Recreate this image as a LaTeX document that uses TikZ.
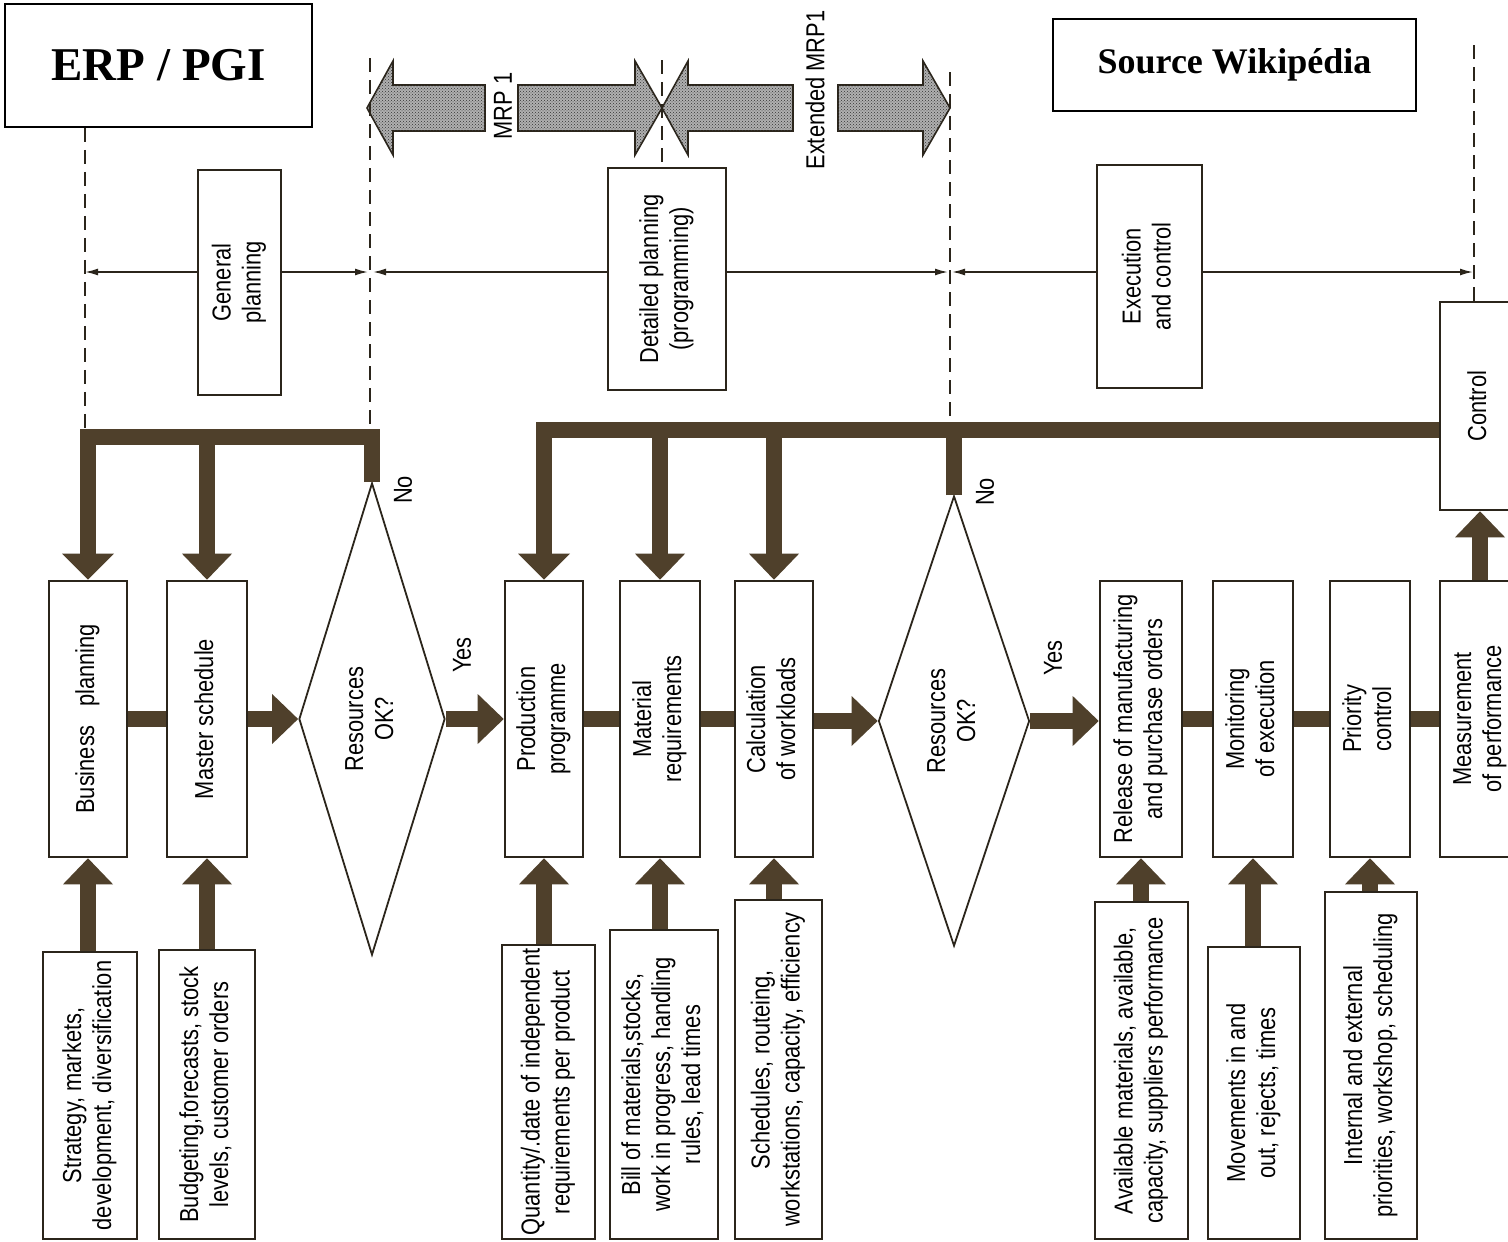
\documentclass[tikz,border=0pt]{standalone}
\usepackage{fontspec}
\usepackage{graphicx}
\usetikzlibrary{arrows.meta, shapes.geometric, patterns}
\newfontfamily\flowfont[FakeStretch=0.84]{Liberation Sans}
\newfontfamily\titlefont{Liberation Serif}
\definecolor{flowbrown}{HTML}{4F402B}
\definecolor{boxline}{HTML}{2B251B}
\newcommand{\vlab}[1]{\rotatebox{90}{\begin{tabular}{@{}c@{}}#1\end{tabular}}}

\begin{document}
\begin{tikzpicture}[
  x=1pt, y=-1pt,
  box/.style={
    rectangle, draw=boxline, fill=white,
    line width=2.6pt, inner sep=0pt, font=\flowfont\fontsize{26}{30}\selectfont},
  proc/.style={box, minimum height=276pt},
  decide/.style={diamond, draw=boxline, fill=white, line width=1.8pt,
    inner sep=0pt, font=\flowfont\fontsize{26}{30}\selectfont},
  title/.style={rectangle, draw=black, line width=1.6pt, inner sep=0pt,
    font=\titlefont\bfseries},
  lbl/.style={font=\flowfont\fontsize{26}{30}\selectfont, rotate=90, inner sep=0pt},
  guide/.style={boxline, line width=1.6pt, dash pattern=on 14pt off 8pt},
  span/.style={boxline, line width=1.6pt, -{Latex[length=13pt,width=7pt]}},
  bar/.style={flowbrown, line width=16pt},
  bus/.style={bar, line join=miter},
  ar/.style={bar, -{Triangle[width=50pt,length=26pt,line width=0pt]}},
  mrp/.style={draw=boxline, line width=1.6pt, fill=gray!62,
    postaction={pattern=crosshatch dots, pattern color=black!80}},
]
  \useasboundingbox (0,0) rectangle (1508,1242);
  \fill[white] (0,0) rectangle (1508,1242);

  % titles
  \node[title, minimum width=307pt, minimum height=123pt, font=\titlefont\bfseries\fontsize{47}{50}\selectfont] (erp) at (158.5,65.5) {ERP / PGI};
  \node[title, minimum width=363pt, minimum height=92pt, font=\titlefont\bfseries\fontsize{36}{40}\selectfont] (src) at (1234.5,65) {Source Wikipédia};

  % phases
  \node[box, minimum width=83pt, minimum height=225pt] (genplan) at (239.5,282.5) {\vlab{General\\planning}};
  \node[box, minimum width=118pt, minimum height=222pt] (detplan) at (667,279) {\vlab{Detailed planning\\(programming)}};
  \node[box, minimum width=105pt, minimum height=223pt] (execctl) at (1149.5,276.5) {\vlab{Execution\\and control}};
  \node[box, minimum width=80pt, minimum height=208pt] (control) at (1480,406) {\vlab{Control}};

  % main row
  \node[proc, minimum width=78pt] (busplan) at (88,719) {\vlab{Business\hskip0.7em planning}};
  \node[proc, minimum width=80pt] (master) at (207,719) {\vlab{Master schedule}};
  \node[decide, minimum width=146pt, minimum height=472pt, shape aspect=0.31] (d1) at (372,719) {\vlab{Resources\\OK?}};
  \node[proc, minimum width=78pt] (prodprog) at (544,719) {\vlab{Production\\programme}};
  \node[proc, minimum width=80pt] (matreq) at (660,719) {\vlab{Material\\requirements}};
  \node[proc, minimum width=78pt] (calcwl) at (774,719) {\vlab{Calculation\\of workloads}};
  \node[decide, minimum width=151pt, minimum height=450pt, shape aspect=0.34] (d2) at (954,721) {\vlab{Resources\\OK?}};
  \node[proc, minimum width=82pt] (release) at (1141,719) {\vlab{Release of manufacturing\\and purchase orders}};
  \node[proc, minimum width=80pt] (monitor) at (1253,719) {\vlab{Monitoring\\of execution}};
  \node[proc, minimum width=80pt] (priority) at (1370,719) {\vlab{Priority\\control}};
  \node[proc, minimum width=80pt] (measure) at (1480,719) {\vlab{Measurement\\of performance}};

  % inputs
  \node[box, minimum width=94pt, minimum height=287pt] (instrat) at (90,1095.5) {\vlab{Strategy, markets,\\development, diversification}};
  \node[box, minimum width=96pt, minimum height=289pt] (inbudget) at (207,1094.5) {\vlab{Budgeting,forecasts, stock\\levels, customer orders}};
  \node[box, minimum width=93pt, minimum height=294pt] (inqty) at (548.5,1092) {\vlab{Quantity/.date of independent\\requirements per product}};
  \node[box, minimum width=108pt, minimum height=309pt] (inbom) at (664,1084.5) {\vlab{Bill of materials,stocks,\\work in progress, handling\\rules, lead times}};
  \node[box, minimum width=87pt, minimum height=339pt] (insched) at (778.5,1069.5) {\vlab{Schedules, routeing,\\workstations, capacity, efficiency}};
  \node[box, minimum width=93pt, minimum height=337pt] (inavail) at (1141.5,1070.5) {\vlab{Available materials, available,\\capacity, suppliers performance}};
  \node[box, minimum width=92pt, minimum height=292pt] (inmove) at (1254,1093) {\vlab{Movements in and\\out, rejects, times}};
  \node[box, minimum width=92pt, minimum height=347pt] (inintern) at (1371,1065.5) {\vlab{Internal and external\\priorities, workshop, scheduling}};

  % labels
  \node[lbl] (no1) at (403,490) {No};
  \node[lbl] (no2) at (985,492) {No};
  \node[lbl] (yes1) at (462,655) {Yes};
  \node[lbl] (yes2) at (1053,658) {Yes};
  \node[lbl] (mrp1) at (503,106) {MRP 1};
  \node[lbl] (mrpx) at (815,90) {Extended MRP1};

  % MRP bands
  \draw[mrp] (485,85) -- (393,85) -- (393,61) -- (367,108) -- (393,155) -- (393,131) -- (485,131) -- cycle;
  \draw[mrp] (518,85) -- (635,85) -- (635,61) -- (662,108) -- (635,155) -- (635,131) -- (518,131) -- cycle;
  \draw[mrp] (793,85) -- (688,85) -- (688,61) -- (662,108) -- (688,155) -- (688,131) -- (793,131) -- cycle;
  \draw[mrp] (838,85) -- (923,85) -- (923,61) -- (950,108) -- (923,155) -- (923,131) -- (838,131) -- cycle;

  % guide lines
  \coordinate (g1) at (85,429);
  \coordinate (g2a) at (370,58);
  \coordinate (g2b) at (370,429);
  \coordinate (g3) at (662,60);
  \coordinate (g4a) at (950,72);
  \coordinate (g4b) at (950,422);
  \coordinate (g5) at (1474,45);
  \draw[guide] (erp.south -| g1) -- (g1);
  \draw[guide] (g2a) -- (g2b);
  \draw[guide] (g3) -- (detplan.north -| g3);
  \draw[guide] (g4a) -- (g4b);
  \draw[guide] (g5) -- (control.north -| g5);

  \coordinate (s1) at (85,272);
  \coordinate (s2) at (368,272);
  \coordinate (s3) at (373,272);
  \coordinate (s4) at (948,272);
  \coordinate (s5) at (952,272);
  \coordinate (s6) at (1473,272);
  \draw[span] (genplan.west |- s1) -- (s1);
  \draw[span] (genplan.east |- s2) -- (s2);
  \draw[span] (detplan.west |- s3) -- (s3);
  \draw[span] (detplan.east |- s4) -- (s4);
  \draw[span] (execctl.west |- s5) -- (s5);
  \draw[span] (execctl.east |- s6) -- (s6);

  % feedback buses
  \coordinate (lbusL) at (88,437);
  \coordinate (lbusR) at (372,437);
  \coordinate (rbusL) at (544,430);
  \draw[bus, -{Triangle[width=52pt,length=26pt,line width=0pt]}] (d1.north) -- (lbusR) -- (lbusL) -- (busplan.north);
  \draw[ar] (master.north |- lbusL) -- (master.north);
  \draw[bus, -{Triangle[width=52pt,length=26pt,line width=0pt]}] (control.west |- rbusL) -- (rbusL) -- (prodprog.north);
  \draw[ar] (matreq.north |- rbusL) -- (matreq.north);
  \draw[ar] (calcwl.north |- rbusL) -- (calcwl.north);
  \draw[bus] (d2.north) -- (d2.north |- rbusL);

  % main flow
  \draw[bar] (busplan) -- (master);
  \draw[ar] (master) -- (d1);
  \draw[ar] (d1) -- (prodprog);
  \draw[bar] (prodprog) -- (matreq);
  \draw[bar] (matreq) -- (calcwl);
  \draw[ar] (calcwl.east |- d2.west) -- (d2.west);
  \draw[ar] (d2.east) -- (release.west |- d2.east);
  \draw[bar] (release) -- (monitor);
  \draw[bar] (monitor) -- (priority);
  \draw[bar] (priority) -- (measure);
  \draw[ar] (measure) -- (control);

  % inputs
  \draw[ar] (busplan.south |- instrat.north) -- (busplan.south);
  \draw[ar] (master.south |- inbudget.north) -- (master.south);
  \draw[ar] (prodprog.south |- inqty.north) -- (prodprog.south);
  \draw[ar] (matreq.south |- inbom.north) -- (matreq.south);
  \draw[ar] (calcwl.south |- insched.north) -- (calcwl.south);
  \draw[ar] (release.south |- inavail.north) -- (release.south);
  \draw[ar] (monitor.south |- inmove.north) -- (monitor.south);
  \draw[ar] (priority.south |- inintern.north) -- (priority.south);
\end{tikzpicture}
\end{document}
